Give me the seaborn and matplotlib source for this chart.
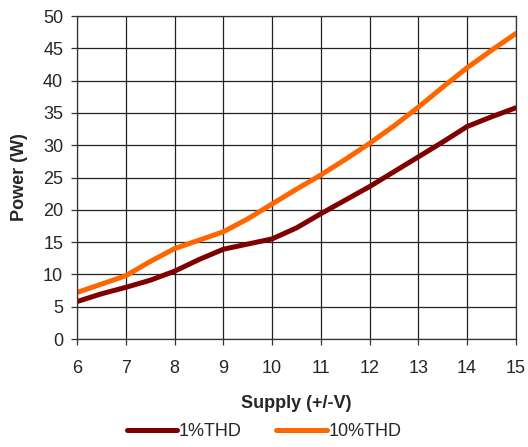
import pandas as pd
import seaborn as sns
import matplotlib.pyplot as plt

# Values
supply = [6, 6.5, 7, 7.5, 8, 8.5, 9, 9.5, 10, 10.5, 11, 11.5, 12, 12.5, 13, 13.5, 14, 14.5, 15]
thd_1 = [5.8, 7.0, 8.0, 9.1, 10.5, 12.3, 13.9, 14.7, 15.5, 17.2, 19.4, 21.5, 23.6, 25.9, 28.2, 30.5, 32.9, 34.4, 35.8]
thd_10 = [7.2, 8.5, 9.8, 12.0, 14.0, 15.3, 16.6, 18.6, 20.9, 23.2, 25.4, 27.8, 30.3, 33.0, 35.9, 39.0, 42.0, 44.7, 47.3]
series_names = ["1%THD", "10%THD"]
colors = ["#800000", "#FF6600"]

df = pd.concat([
    pd.DataFrame({"Supply": supply, "Power": thd_1, "Series": series_names[0]}),
    pd.DataFrame({"Supply": supply, "Power": thd_10, "Series": series_names[1]}),
])

sns.set_style("white")
plt.rcParams["font.family"] = ["Liberation Sans", "DejaVu Sans"]

fig = plt.figure(figsize=(5.28, 4.47), dpi=100)
ax = fig.add_axes([0.146, 0.2416, 0.831, 0.7224])

sns.lineplot(data=df, x="Supply", y="Power", hue="Series", palette=colors,
             linewidth=3.6, ax=ax, legend=True)

ax.set_xlim(6, 15)
ax.set_ylim(0, 50)
ax.set_xticks(range(6, 16))
ax.set_yticks(range(0, 51, 5))
ax.grid(True, color="#222222", linewidth=0.9)
ax.set_axisbelow(True)
ax.tick_params(axis="both", labelsize=13, length=4, width=0.9, color="#333333",
               direction="out", bottom=True, left=True)
ax.tick_params(axis="x", pad=11)
ax.tick_params(axis="y", pad=6)
for s in ax.spines.values():
    s.set_color("#333333")
    s.set_linewidth(0.9)

ax.set_xlabel("Supply (+/-V)", fontsize=13, fontweight="bold", labelpad=13)
ax.set_ylabel("Power (W)", fontsize=13, fontweight="bold", labelpad=11)

handles, labels = ax.get_legend_handles_labels()
ax.legend(handles, labels, loc="center", bbox_to_anchor=(0.5, 0.034),
          bbox_transform=fig.transFigure, ncol=2, frameon=False,
          fontsize=13, handlelength=2.8, handletextpad=0.1, columnspacing=1.9)

plt.savefig("out.png", dpi=100)
plt.close()
